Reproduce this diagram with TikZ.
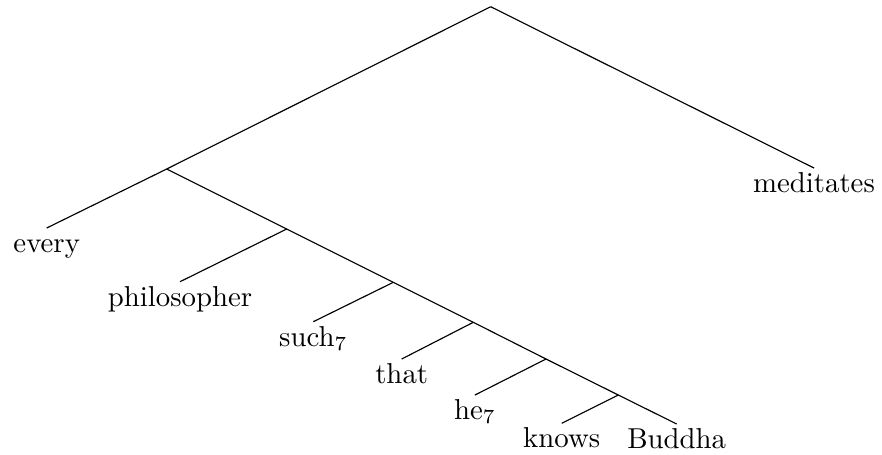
\documentclass[tikz,border=0pt]{standalone}
\usepackage{amsmath, amssymb}
\usepackage{tikz}
\usetikzlibrary{positioning}
\tikzstyle{mot}=[anchor=north,inner sep=0.333em,text height=5pt]
\tikzstyle{branche}=[-,thin]

\begin{document}
\begin{tikzpicture}[x=0.34722pt,y=-0.34722pt]
\useasboundingbox (0,0) rectangle (882,454);
\coordinate (r) at (490.7,6.7);
\coordinate (p1) at (166.7,169);
\coordinate (p2) at (286.7,229);
\coordinate (p3) at (393.3,282.3);
\coordinate (p4) at (473.3,322.3);
\coordinate (p5) at (546,359);
\coordinate (p6) at (618.3,395);
\node[mot] (every) at (46.7,228) {every};
\node[mot] (philo) at (180,281.7) {philosopher};
\node[mot] (such) at (313.3,321.7) {such$_7$};
\node[mot] (that) at (401.7,359) {that};
\node[mot] (he) at (475,395) {he$_7$};
\node[mot] (knows) at (561.7,423.3) {knows};
\node[mot] (buddha) at (676.7,424) {Buddha};
\node[mot] (medit) at (814,168) {meditates};
%Drawing Edges
\draw[branche] (r) -- (p1);
\draw[branche] (r) -- (medit.north);
\draw[branche] (p1) -- (every.north);
\draw[branche] (p1) -- (p2);
\draw[branche] (p2) -- (philo.north);
\draw[branche] (p2) -- (p3);
\draw[branche] (p3) -- (such.north);
\draw[branche] (p3) -- (p4);
\draw[branche] (p4) -- (that.north);
\draw[branche] (p4) -- (p5);
\draw[branche] (p5) -- (he.north);
\draw[branche] (p5) -- (p6);
\draw[branche] (p6) -- (knows.north);
\draw[branche] (p6) -- (buddha.north);
\end{tikzpicture}
\end{document}
